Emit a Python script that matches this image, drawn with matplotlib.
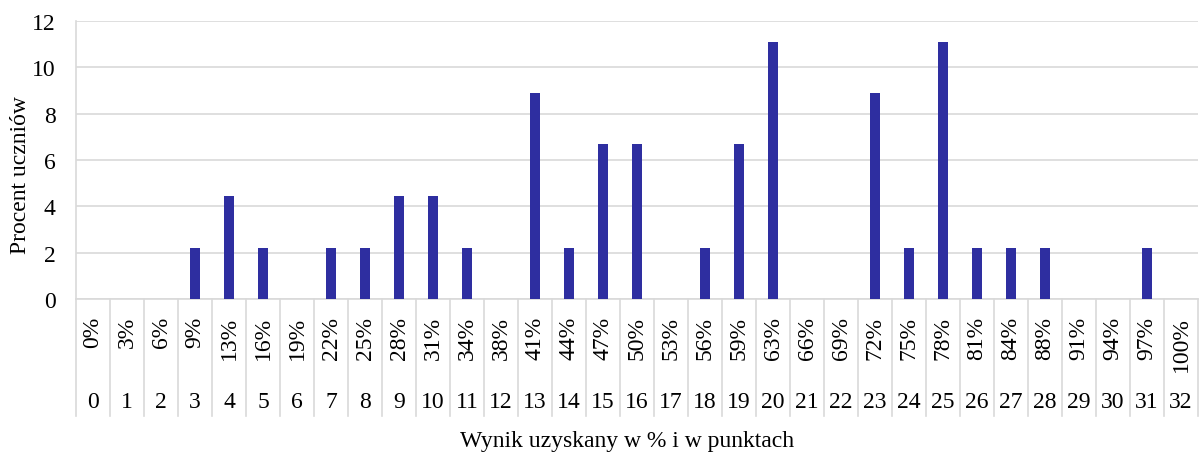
import matplotlib.pyplot as plt
import matplotlib.transforms as mtransforms

plt.rcParams['font.family'] = ['Liberation Serif', 'DejaVu Serif']

punkty = list(range(33))
procent_wyniku = ["0%", "3%", "6%", "9%", "13%", "16%", "19%", "22%", "25%", "28%",
                  "31%", "34%", "38%", "41%", "44%", "47%", "50%", "53%", "56%", "59%",
                  "63%", "66%", "69%", "72%", "75%", "78%", "81%", "84%", "88%", "91%",
                  "94%", "97%", "100%"]
procent_uczniow = [0, 0, 0, 2.22, 4.44, 2.22, 0, 2.22, 2.22, 4.44,
                   4.44, 2.22, 0, 8.89, 2.22, 6.67, 6.67, 0, 2.22, 6.67,
                   11.11, 0, 0, 8.89, 2.22, 11.11, 2.22, 2.22, 2.22, 0,
                   0, 2.22, 0]

W, H = 1199, 456
fig = plt.figure(figsize=(W / 100, H / 100), dpi=100)
ax = fig.add_axes([76 / W, 1 - 300 / H, (1198 - 76) / W, 278 / H])

fs = 17
gray = "#d9d9d9"

ax.bar(punkty, procent_uczniow, width=0.32, color="#2e2ea0", zorder=3)
ax.set_xlim(-0.5, 32.5)
ax.set_ylim(0, 12)
ax.set_yticks(range(0, 13, 2))
ax.tick_params(axis='y', length=0, pad=14.5, labelsize=fs)
ax.set_xticks([])
ax.grid(axis='y', color=gray, linewidth=1.2, zorder=0)
for s in ['top', 'right', 'bottom']:
    ax.spines[s].set_visible(False)
ax.spines['left'].set_color(gray)
ax.spines['left'].set_linewidth(1.2)

fig.text(21 / W, 1 - 175 / H, "Procent uczniów", rotation=90, ha='center',
         va='center', fontsize=fs)

trans = mtransforms.blended_transform_factory(ax.transData, ax.transAxes)
dy = 1 / 278.0
sep_bottom = -117 * dy
for i in range(len(punkty) + 1):
    ax.plot([i - 0.5, i - 0.5], [0, sep_bottom], transform=trans, color=gray,
            linewidth=1.2, clip_on=False)
ax.plot([-0.5, 32.5], [0, 0], transform=trans, color=gray, linewidth=1.2, clip_on=False)

for i, (p, lab) in enumerate(zip(punkty, procent_wyniku)):
    ax.text(i, -17 * dy, lab, transform=trans, rotation=90, ha='center', va='top',
            fontsize=fs)
    ax.text(i, -103 * dy, str(p), transform=trans, ha='center', va='center',
            fontsize=fs)

fig.text(627 / W, 1 - 442 / H, "Wynik uzyskany w % i w punktach", ha='center',
         va='center', fontsize=fs)

fig.savefig("out.png", dpi=100)
